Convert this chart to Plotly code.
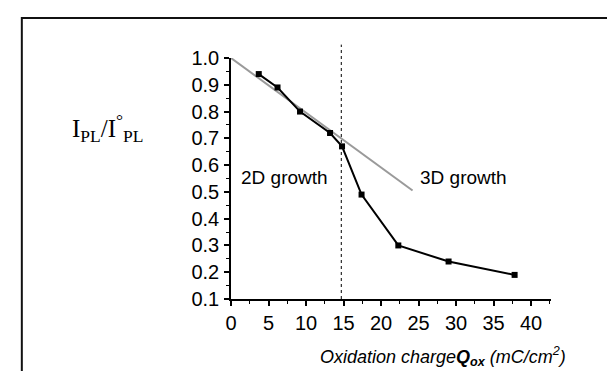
import plotly.graph_objects as go

# Data
q_ox = [3.7, 6.2, 9.2, 13.2, 14.8, 17.4, 22.3, 29.0, 37.8]
ipl_ratio = [0.94, 0.89, 0.80, 0.72, 0.67, 0.49, 0.30, 0.24, 0.19]
fit_x = [0.0, 24.2]
fit_y = [1.0, 0.505]
transition_x = 14.7
x_ticks = [0, 5, 10, 15, 20, 25, 30, 35, 40]
y_ticks = [0.1, 0.2, 0.3, 0.4, 0.5, 0.6, 0.7, 0.8, 0.9, 1.0]
y_tick_text = ["0.1", "0.2", "0.3", "0.4", "0.5", "0.6", "0.7", "0.8", "0.9", "1.0"]

W, H = 615, 371
L, R, T, B = 222.5, 72, 50, 80
PW = W - L - R
PH = H - T - B

def px(x):
    return (x - L) / PW

def py(y):
    return (H - B - y) / PH

fig = go.Figure()
fig.add_trace(go.Scatter(x=fit_x, y=fit_y, mode="lines",
                         line=dict(color="#9a9a9a", width=2), showlegend=False))
fig.add_trace(go.Scatter(x=q_ox, y=ipl_ratio, mode="lines+markers",
                         line=dict(color="black", width=2),
                         marker=dict(symbol="square", size=6, color="black"),
                         showlegend=False))

font = "Liberation Sans, Arial, sans-serif"
fig.update_layout(
    width=W, height=H,
    margin=dict(l=L, r=R, t=T, b=B),
    paper_bgcolor="white", plot_bgcolor="white",
    font=dict(family=font, color="black", size=20),
    xaxis=dict(range=[0, 42.65], tickvals=x_ticks, ticks="outside", ticklen=5,
               tickwidth=1.5, tickcolor="black", showline=True, linecolor="black",
               linewidth=1.5, showgrid=False, zeroline=False,
               tickfont=dict(size=20), ticklabelstandoff=0,
               minor=dict(dtick=2.5, tick0=0, ticks="outside", ticklen=3,
                          tickcolor="black", tickwidth=1)),
    yaxis=dict(range=[0.1, 1.0], tickvals=y_ticks, ticktext=y_tick_text,
               ticks="outside", ticklen=5, tickwidth=1.5, tickcolor="black",
               showline=True, linecolor="black", linewidth=1.5, showgrid=False,
               zeroline=False, tickfont=dict(size=20), ticklabelstandoff=1,
               minor=dict(dtick=0.05, tick0=0.1, ticks="outside", ticklen=3,
                          tickcolor="black", tickwidth=1)),
    shapes=[
        dict(type="line", xref="x", yref="paper", x0=transition_x, x1=transition_x,
             y0=0, y1=(1.05 - 0.1) / 0.9,
             line=dict(color="black", width=1, dash="dot")),
        dict(type="rect", xref="paper", yref="paper",
             x0=px(13), x1=px(613), y0=py(390), y1=py(10),
             line=dict(color="#111", width=2), fillcolor="rgba(0,0,0,0)", layer="below"),
    ],
    annotations=[
        dict(text="2D growth", x=7.1, y=0.552, xref="x", yref="y", showarrow=False,
             xanchor="center", yanchor="middle", font=dict(size=19, family=font)),
        dict(text="3D growth", x=31.0, y=0.552, xref="x", yref="y", showarrow=False,
             xanchor="center", yanchor="middle", font=dict(size=19, family=font)),
        dict(text="I<sub>PL</sub>/I<sup>°</sup><sub>PL</sub>", x=px(99), y=py(120),
             xref="paper", yref="paper", showarrow=False,
             xanchor="center", yanchor="middle",
             font=dict(size=25, family="Liberation Serif, Times New Roman, serif")),
        dict(text="<i>Oxidation charge</i><b><i>Q<sub>ox</sub></i></b><i> (mC/cm<sup>2</sup>)</i>",
             x=px(435), y=py(348), xref="paper", yref="paper", showarrow=False,
             xanchor="center", yanchor="middle",
             font=dict(size=18, family=font)),
    ],
)

fig.write_html("out.html")
